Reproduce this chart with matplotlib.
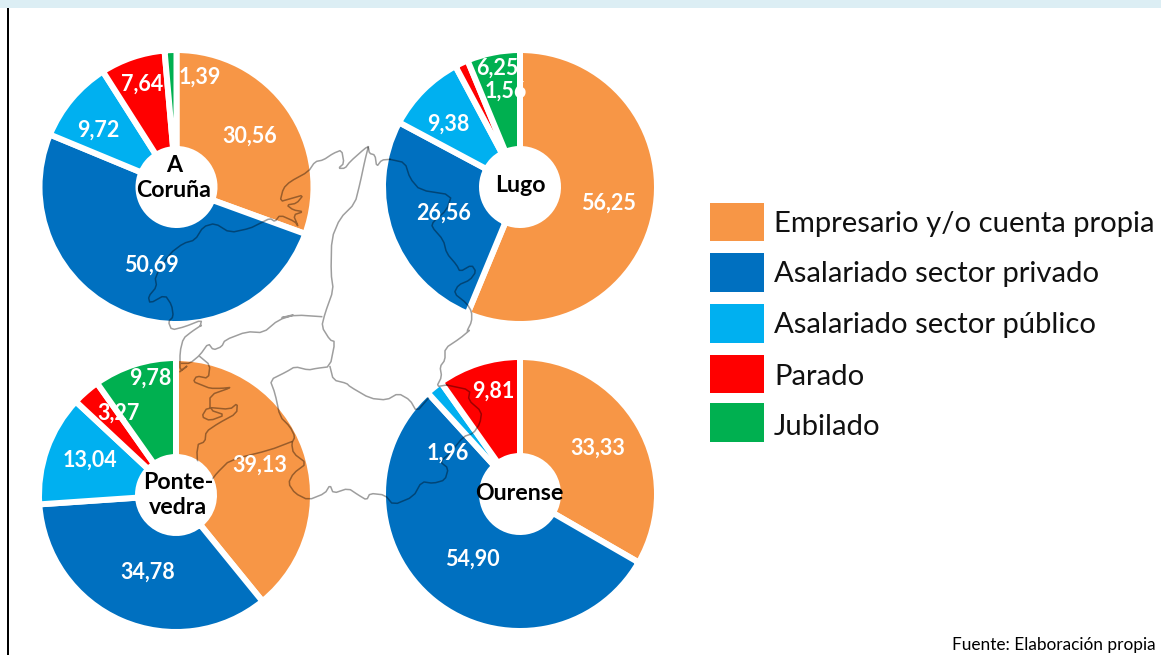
import matplotlib
matplotlib.use("Agg")
import matplotlib.pyplot as plt
from matplotlib.patches import Rectangle, Circle

W, H = 1161, 655

# data
categories = ["Empresario y/o cuenta propia", "Asalariado sector privado",
              "Asalariado sector público", "Parado", "Jubilado"]
colors = ["#F79646", "#0070C0", "#00B0F0", "#FF0000", "#00B050"]
coruna = [30.56, 50.69, 9.72, 7.64, 1.39]
lugo = [56.25, 26.56, 9.38, 1.56, 6.25]
pontevedra = [39.13, 34.78, 13.04, 3.27, 9.78]
ourense = [33.33, 54.90, 1.96, 9.81, 0]

# pie centres, name spots and value label spots, in image pixels
pies = [
    ("A\nCoruña", coruna, (176.5, 187), (174, 178), [(250, 136), (151, 265), (98, 130), (142, 84), (200, 77)]),
    ("Lugo", lugo, (520, 187), (520, 186), [(608, 203), (444, 213), (448, 124), (506, 91), (497, 68)]),
    ("Ponte-\nvedra", pontevedra, (176, 495), (178, 495), [(260, 465), (148, 572), (90, 460), (119, 413), (150, 378)]),
    ("Ourense", ourense, (520, 494), (519, 493), [(598, 448), (472, 559), (448, 453), (493, 391), None]),
]
R = 134
HOLE = 41
EDGE = 3

# legend rows: box top, box bottom, text baseline
legend_rows = [(203, 241, 232), (253, 292, 282), (304, 343, 333), (355, 393, 385), (403, 442, 435)]

# map of Galicia behind the pies, traced in pixels of 3x crops
def z(ox, oy, pts):
    return [(ox + x / 3, oy + y / 3) for x, y in pts]

def soften(line, times=1):
    # rounds the corners of the traced outline
    for _ in range(times):
        new = [line[0]]
        for a, b in zip(line[:-1], line[1:]):
            new.append((0.8 * a[0] + 0.2 * b[0], 0.8 * a[1] + 0.2 * b[1]))
            new.append((0.2 * a[0] + 0.8 * b[0], 0.2 * a[1] + 0.8 * b[1]))
        new.append(line[-1])
        line = new
    return line

map_lines = [
    # north coast and Coruna rias
    z(270, 140, [(360, 58), (335, 60), (320, 80), (315, 45), (298, 40), (295, 20), (285, 25), (240, 65),
                 (225, 85), (205, 85), (222, 70), (215, 30), (190, 40), (160, 60), (135, 65), (115, 95),
                 (60, 125), (40, 145), (30, 185), (65, 175), (100, 165), (80, 190), (50, 195), (70, 210),
                 (100, 215), (70, 225), (85, 260), (75, 245), (30, 225), (15, 245), (0, 235)])
    + z(130, 140, [(390, 250), (360, 265), (300, 278), (255, 250), (220, 260), (195, 300), (160, 310),
                   (120, 340), (75, 410), (80, 440), (55, 470), (60, 490), (105, 465), (125, 495),
                   (130, 530), (115, 545), (125, 570), (165, 560), (215, 540), (210, 560)])
    + z(130, 300, [(215, 75), (185, 95), (160, 115), (150, 155), (150, 215), (175, 195), (150, 215)]),
    # Pontevedra coast
    z(130, 300, [(205, 545), (200, 435), (225, 425), (228, 395), (265, 370), (320, 340), (322, 310),
                 (300, 328), (232, 322), (215, 350), (240, 362), (285, 345), (240, 330), (240, 285),
                 (305, 262), (275, 265), (240, 265), (215, 255), (190, 245), (200, 228), (235, 235),
                 (240, 195), (210, 170)]),
    # Coruna / Pontevedra border
    z(130, 300, [(155, 190), (180, 190), (210, 165), (235, 130), (250, 150), (275, 140), (285, 120),
                 (350, 95), (400, 98), (445, 60), (500, 42)])
    + z(270, 140, [(25, 535), (80, 525), (155, 530)]),
    # Coruna / Lugo border
    z(270, 140, [(295, 20), (285, 60), (270, 130), (255, 190), (210, 235), (185, 295), (183, 400),
                 (190, 450), (165, 520), (155, 560), (180, 600)])
    + z(270, 330, [(195, 35), (180, 110), (140, 115), (115, 120), (75, 110), (50, 125), (0, 150),
                   (15, 190), (30, 260), (60, 290), (75, 320), (65, 340), (70, 370), (110, 400),
                   (70, 430), (55, 460), (75, 490), (115, 510), (165, 490), (180, 465), (190, 490),
                   (235, 475), (265, 495), (290, 510), (300, 490), (345, 495), (370, 525), (430, 500),
                   (455, 455), (490, 460), (525, 450), (535, 415), (510, 395), (540, 370), (580, 320),
                   (610, 310), (630, 280), (635, 245), (595, 210), (600, 180), (530, 165)]),
    # Lugo / Ourense border
    z(270, 330, [(180, 110), (190, 150), (230, 160), (240, 170), (300, 205), (350, 210), (385, 190),
                 (420, 210), (440, 245), (475, 205)]),
    # Pontevedra / Ourense border
    z(270, 330, [(65, 335), (0, 360)]) + z(130, 300, [(300, 480), (260, 520), (245, 540)]),
    # Lugo / Asturias border down to Ourense
    z(270, 140, [(360, 58), (405, 68), (420, 115), (450, 150), (545, 165), (530, 210), (490, 245),
                 (485, 260), (520, 300), (530, 340), (560, 375), (570, 395), (605, 375), (618, 395),
                 (600, 420), (565, 435), (552, 460), (590, 490), (605, 515), (605, 545), (590, 575)])
    + z(270, 330, [(600, 0), (570, 25), (525, 55), (525, 90), (510, 110), (515, 140), (500, 170), (530, 165)]),
]

plt.rcParams["font.family"] = ["Lato", "DejaVu Sans"]

fig = plt.figure(figsize=(W / 100, H / 100), dpi=100, facecolor="white")
bg = fig.add_axes([0, 0, 1, 1])
bg.set_xlim(0, W)
bg.set_ylim(H, 0)
bg.axis("off")

bg.add_patch(Rectangle((0, 0), W, 8, color="#DCEEF4", lw=0))
bg.add_patch(Rectangle((7, 8), 2, H - 8, color="black", lw=0))

outer = R + EDGE
half = outer + 2
for name, values, (cx, cy), name_xy, spots in pies:
    ax = fig.add_axes([(cx - half) / W, 1 - (cy + half) / H, 2 * half / W, 2 * half / H])
    ax.pie(values, colors=colors, startangle=90, counterclock=False, radius=1,
           wedgeprops=dict(width=(outer - HOLE + EDGE) / outer, edgecolor="white", linewidth=2 * EDGE * 0.72))
    ax.set_xlim(-half / outer, half / outer)
    ax.set_ylim(-half / outer, half / outer)

top = fig.add_axes([0, 0, 1, 1])
top.set_xlim(0, W)
top.set_ylim(H, 0)
top.axis("off")
top.patch.set_alpha(0)

for line in map_lines:
    line = soften(line)
    top.plot([p[0] for p in line], [p[1] for p in line], color="black", alpha=0.38, lw=1.1,
             solid_joinstyle="round", zorder=2)

for name, values, (cx, cy), name_xy, spots in pies:
    top.add_patch(Circle((cx, cy), HOLE - 1, color="white", lw=0, zorder=3))
    top.text(name_xy[0], name_xy[1], name, ha="center", va="center", fontsize=16.7, fontweight="bold",
             color="black", linespacing=1.22, zorder=5)
    for v, spot in zip(values, spots):
        if spot is None:
            continue
        top.text(spot[0], spot[1], f"{v:.2f}".replace(".", ","), ha="center", va="center",
                 fontsize=15.5, fontweight="bold", color="white", zorder=4)

for label, c, (y0, y1, base) in zip(categories, colors, legend_rows):
    top.add_patch(Rectangle((710, y0), 54, y1 - y0, color=c, lw=0))
    top.text(774, base, label, ha="left", va="baseline", fontsize=21.1, color="#111111")

top.text(952, 650, "Fuente: Elaboración propia", ha="left", va="baseline", fontsize=12.4, color="black")

fig.savefig("out.png", dpi=100)
